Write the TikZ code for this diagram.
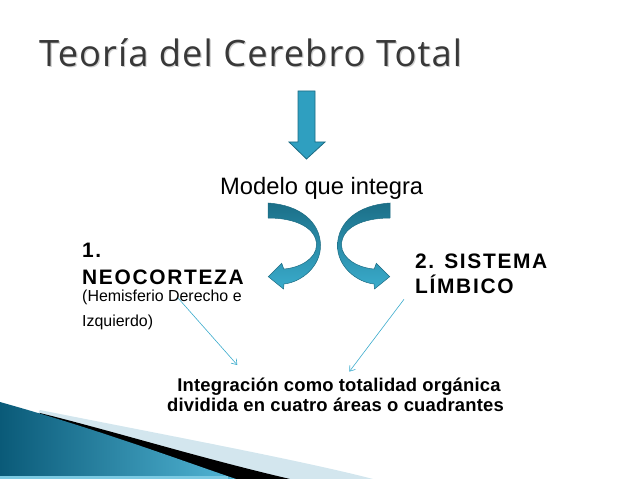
\documentclass[tikz,border=0pt]{standalone}
\usepackage{fontspec}
\setmainfont{Liberation Sans}
\newfontfamily\titlefont{Open Sans}[LetterSpace=2.8]
\newfontfamily\capsfamily{Liberation Sans}[LetterSpace=8]
\newfontfamily\integfamily{Liberation Sans}[LetterSpace=1]
\usetikzlibrary{arrows.meta}
\definecolor{titlegray}{HTML}{383838}
\definecolor{shadowgray}{HTML}{D0D0D0}
\definecolor{arrowblue}{HTML}{2F9FC0}
\definecolor{arrowdark}{HTML}{1C6B82}
\definecolor{bendtop}{HTML}{1B6F88}
\definecolor{bendbottom}{HTML}{3AACCC}
\definecolor{linkblue}{HTML}{3AABCC}
\definecolor{tealdark}{HTML}{0A5A78}
\definecolor{teallight}{HTML}{52B6D6}
\definecolor{swooshlight}{HTML}{D3E6EE}
\definecolor{stripblue}{HTML}{7CCAE2}
\tikzset{>=latex}
\tikzset{plain/.style = {anchor=base west, inner sep=0pt}}
\tikzset{link/.style = {draw=linkblue, line width=0.6pt, -{Straight Barb[length=5pt,width=7pt]}}}
\tikzset{blockarrow/.style = {fill=arrowblue, draw=arrowdark, line width=0.8pt}}
\tikzset{bendarrow/.style = {top color=bendtop, bottom color=bendbottom, draw=arrowdark, line width=0.5pt}}

\begin{document}
\begin{tikzpicture}[x=1bp,y=-1bp]
            \useasboundingbox (0,0) rectangle (638,479);

            % Swoosh
            \fill[swooshlight] (40,410) .. controls (150,432) and (300,460) .. (373,479) -- (0,479) -- cycle;
            \fill[black] (40,413) .. controls (120,433) and (200,458) .. (290,479) -- (0,479) -- cycle;
            \shade[left color=tealdark, right color=teallight] (0,402) .. controls (100,430) and (180,460) .. (236,479) -- (0,479) -- cycle;
            \fill[stripblue] (0,476) rectangle (228,479);

            % Title
            \node[plain, font=\titlefont\fontsize{36.5}{42}\selectfont, text=shadowgray] (titleshadow) at (40.2,67.9) {Teoría del Cerebro Total};
            \node[plain, font=\titlefont\fontsize{36.5}{42}\selectfont, text=titlegray] (title) at (39,66.7) {Teoría del Cerebro Total};

            % Arrows
            \draw[blockarrow] (298,91) -- (315,91) -- (315,142) -- (325,142) -- (306.5,159) -- (289,142) -- (298,142) -- cycle;
            \shadedraw[bendarrow] (268,203) .. controls (300,205) and (320,222) .. (320.5,245)
                .. controls (321,266) and (302,282) .. (284,284)
                -- (283.5,289) -- (268.3,276.7) -- (281.7,263.3) -- (283.8,269)
                .. controls (299,268) and (316.5,259) .. (316.5,245)
                .. controls (316.5,228) and (296,218) .. (268,218) -- cycle;
            \begin{scope}[shift={(658,0)}, xscale=-1]
                \shadedraw[bendarrow] (268,203) .. controls (300,205) and (320,222) .. (320.5,245)
                    .. controls (321,266) and (302,282) .. (284,284)
                    -- (283.5,289) -- (268.3,276.7) -- (281.7,263.3) -- (283.8,269)
                    .. controls (299,268) and (316.5,259) .. (316.5,245)
                    .. controls (316.5,228) and (296,218) .. (268,218) -- cycle;
            \end{scope}

            % Texts
            \node[plain, font=\fontsize{23.8}{28}\selectfont] (model) at (220,195) {Modelo que integra};
            \node[plain, font=\capsfamily\bfseries\fontsize{21}{25}\selectfont] (neonum) at (82,257) {1.};
            \node[plain, font=\capsfamily\bfseries\fontsize{21}{25}\selectfont] (neo) at (82,284) {NEOCORTEZA};
            \node[plain, font=\fontsize{16}{19}\selectfont] (hemi) at (82,301) {(Hemisferio Derecho e};
            \node[plain, font=\fontsize{16}{19}\selectfont] (izq) at (82,326) {Izquierdo)};
            \node[plain, font=\capsfamily\bfseries\fontsize{21}{25}\selectfont] (sis) at (415,268.3) {2. SISTEMA};
            \node[plain, font=\capsfamily\bfseries\fontsize{21}{25}\selectfont] (limb) at (415,293.3) {LÍMBICO};
            \node[anchor=base, inner sep=0pt, font=\integfamily\bfseries\fontsize{18.5}{21}\selectfont] (integ) at (339,391.7) {Integración como totalidad orgánica};
            \node[anchor=base, inner sep=0pt, font=\integfamily\bfseries\fontsize{18.5}{21}\selectfont] (cuad) at (335.5,411) {dividida en cuatro áreas o cuadrantes};

            % Links
            \coordinate (neoout) at (178,298);
            \coordinate (neoin) at (237.3,365);
            \coordinate (limbout) at (404,299.3);
            \coordinate (limbin) at (349.3,371.7);
            \draw[link] (neoout) -- (neoin);
            \draw[link] (limbout) -- (limbin);

        \end{tikzpicture}
\end{document}
